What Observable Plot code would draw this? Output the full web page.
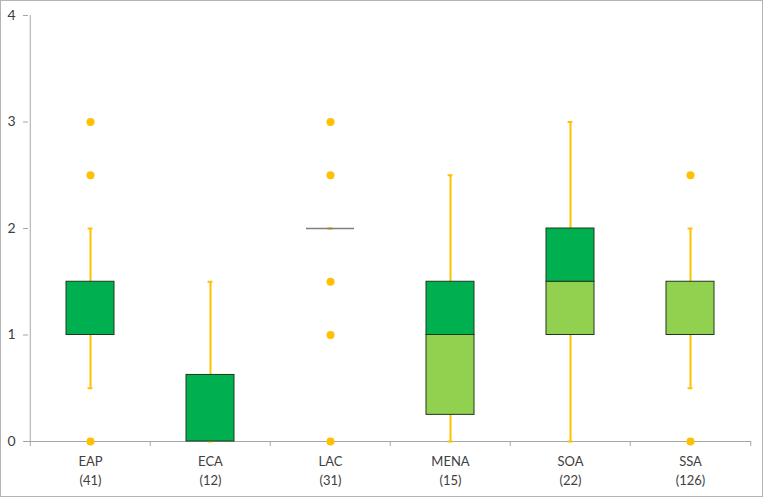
<!DOCTYPE html>
<html>
<head>
<meta charset="utf-8">
<script src="https://cdn.jsdelivr.net/npm/d3@7"></script>
<script src="https://cdn.jsdelivr.net/npm/@observablehq/plot@0.6"></script>
<style>
  html, body { margin: 0; padding: 0; background: #fff; }
  #chart svg { display: block; outline: 1px solid #b4b4b4; outline-offset: -1px; }
</style>
</head>
<body>
<div id="chart"></div>
<script>
const regions = ["EAP", "ECA", "LAC", "MENA", "SOA", "SSA"];
const counts = [41, 12, 31, 15, 22, 126];
const q1 = [1, 0, 2, 0.25, 1, 1];
const median = [1, 0, 2, 1, 1.5, 1.5];
const q3 = [1.5, 0.625, 2, 1.5, 2, 1.5];
const whiskerLow = [0.5, 0, 2, 0, 0, 0.5];
const whiskerHigh = [2, 1.5, 2, 2.5, 3, 2];
const outlierRegion = ["EAP", "EAP", "EAP", "LAC", "LAC", "LAC", "LAC", "LAC", "SSA", "SSA"];
const outlierValue = [0, 2.5, 3, 0, 1, 1.5, 2.5, 3, 0, 2.5];
const yTicks = [0, 1, 2, 3, 4];

const stats = regions.map((r, i) => ({
  region: r, n: counts[i], q1: q1[i], median: median[i], q3: q3[i],
  lo: whiskerLow[i], hi: whiskerHigh[i]
}));
const outliers = outlierRegion.map((r, i) => ({region: r, value: outlierValue[i]}));
const labelOf = Object.fromEntries(stats.map(d => [d.region, `${d.region}\n(${d.n})`]));

const W = 763, H = 497, mL = 28, mR = 12, mT = 15, mB = 56;
const step = (W - mL - mR) / regions.length;
const bw = step * 0.4;
const capInset = (bw - 5) / 2;

const axisGray = "#a6a6a6";
const textGray = "#404040";
const gold = "#FFC000";

const chart = Plot.plot({
  width: W, height: H,
  marginLeft: mL, marginRight: mR, marginTop: mT, marginBottom: mB,
  style: {fontFamily: "Lato, 'Open Sans', sans-serif", fontSize: "13px", color: textGray, background: "#fff"},
  x: {domain: regions, paddingInner: 0.6, paddingOuter: 0.3, axis: null, label: null},
  y: {domain: [0, 4], axis: null, label: null},
  marks: [
    Plot.ruleY([0], {stroke: axisGray, strokeWidth: 1}),
    Plot.ruleX(["EAP"], {dx: -step / 2, stroke: axisGray, strokeWidth: 1}),
    Plot.axisY({ticks: yTicks, tickSize: 5, tickPadding: 8, stroke: axisGray, fill: textGray, fontSize: 14, tickFormat: d => d, label: null}),
    Plot.axisX({ticks: regions, tickSize: 5, dx: -step / 2, stroke: axisGray, text: null, label: null}),
    Plot.axisX({ticks: ["SSA"], tickSize: 5, dx: step / 2, stroke: axisGray, text: null, label: null}),
    Plot.axisX({ticks: regions, tickSize: 0, tickPadding: 11, lineHeight: 1.46, fill: textGray, fontSize: 13, tickFormat: d => labelOf[d], label: null}),
    Plot.ruleX(stats, {x: "region", y1: "lo", y2: "q1", stroke: gold, strokeWidth: 2}),
    Plot.ruleX(stats, {x: "region", y1: "q3", y2: "hi", stroke: gold, strokeWidth: 2}),
    Plot.tickY(stats, {x: "region", y: "lo", stroke: gold, strokeWidth: 2, insetLeft: capInset, insetRight: capInset}),
    Plot.tickY(stats, {x: "region", y: "hi", stroke: gold, strokeWidth: 2, insetLeft: capInset, insetRight: capInset}),
    Plot.barY(stats.filter(d => d.median > d.q1), {x: "region", y1: "q1", y2: "median", fill: "#92D050", stroke: "#1e3a1e", strokeWidth: 1}),
    Plot.barY(stats.filter(d => d.q3 > d.median), {x: "region", y1: "median", y2: "q3", fill: "#00B050", stroke: "#1e3a1e", strokeWidth: 1}),
    Plot.tickY(stats.filter(d => d.q1 === d.q3), {x: "region", y: "median", stroke: "#7f7f7f", strokeWidth: 1.5}),
    Plot.dot(outliers, {x: "region", y: "value", r: 4, fill: gold, stroke: "none"})
  ]
});
document.getElementById("chart").appendChild(chart);
</script>
</body>
</html>
